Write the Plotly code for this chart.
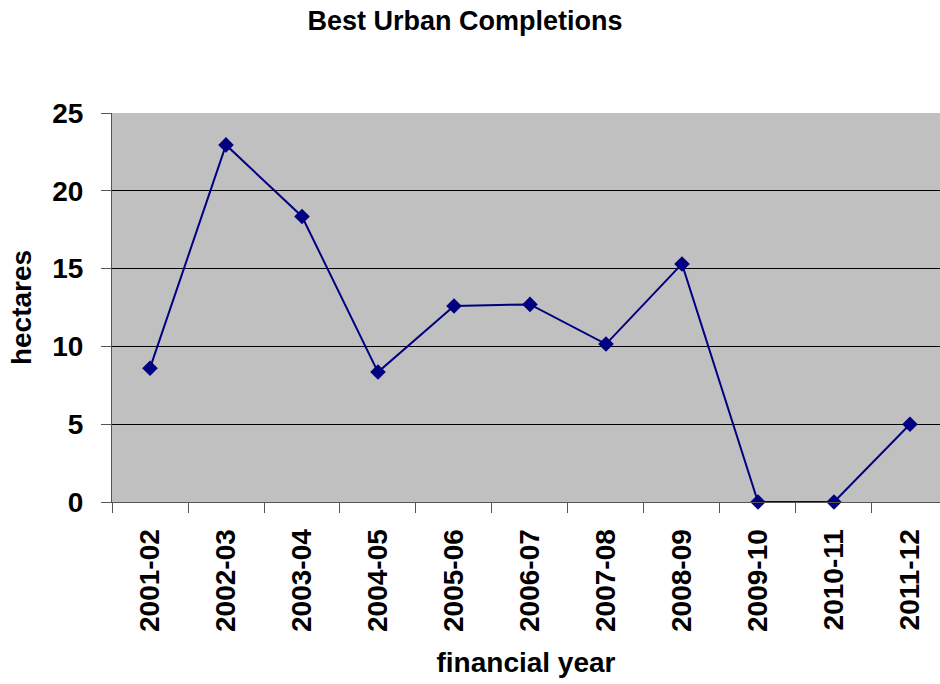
import plotly.graph_objects as go

years = ["2001-02", "2002-03", "2003-04", "2004-05", "2005-06", "2006-07",
         "2007-08", "2008-09", "2009-10", "2010-11", "2011-12"]
hectares = [8.6, 22.95, 18.35, 8.35, 12.6, 12.7, 10.15, 15.3, 0, 0, 5.0]

fnt = "Liberation Sans, Arial, sans-serif"

fig = go.Figure(go.Scatter(
    x=years, y=hectares, mode="lines+markers",
    line=dict(color="#000080", width=2),
    marker=dict(symbol="diamond", size=12, color="#000080"),
    cliponaxis=False,
))

fig.update_layout(
    width=940, height=684,
    margin=dict(l=112, r=0, t=113, b=182),
    paper_bgcolor="white", plot_bgcolor="#C0C0C0",
    showlegend=False,
    title=dict(text="<b>Best Urban Completions</b>", x=465 / 940, xref="container",
               xanchor="center", y=1 - 21 / 684, yanchor="middle",
               font=dict(family=fnt, size=27, color="black")),
    font=dict(family=fnt, color="black"),
)

fig.update_xaxes(
    type="category", range=[-0.5, 10.395],
    tickangle=-90, tickson="boundaries", ticks="outside", ticklen=10,
    tickcolor="#555", showgrid=False, showline=True, linecolor="#555", linewidth=1,
    tickfont=dict(family=fnt, size=28, color="black"),
    ticklabelstandoff=15,
    tickprefix="<b>", ticksuffix="</b>",
    title=dict(text="<b>financial year</b>", font=dict(family=fnt, size=28), standoff=21),
)
fig.update_yaxes(
    range=[0, 25], dtick=5, ticks="outside", ticklen=10, tickcolor="#555",
    showgrid=True, gridcolor="black", gridwidth=1,
    showline=True, linecolor="#555", linewidth=1, zeroline=False,
    tickfont=dict(family=fnt, size=28, color="black"),
    ticklabelstandoff=12,
    tickprefix="<b>", ticksuffix="</b>",
    title=dict(text="<b>hectares</b>", font=dict(family=fnt, size=28), standoff=12),
)

fig.write_html("out.html", post_script="document.body.style.margin='0';",
               config={"displayModeBar": False})
